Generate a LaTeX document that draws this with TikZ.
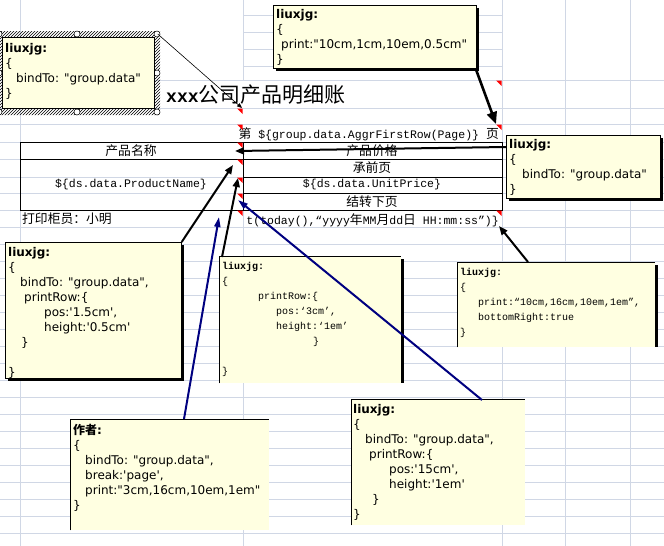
\documentclass[tikz,border=0pt]{standalone}
\usepackage{fontspec}
\newfontfamily\tah{DejaVu Sans}
\newfontfamily\mono{Liberation Mono}
\newfontfamily\cjk{Noto Sans CJK SC}
\usetikzlibrary{arrows.meta,patterns}
\definecolor{gridc}{RGB}{208,215,229}
\definecolor{tipc}{RGB}{255,255,225}
\definecolor{navyc}{RGB}{0,0,128}
\newcommand\zh[1]{{\cjk\fontsize{12.8}{14}\selectfont #1}}

\begin{document}
\begin{tikzpicture}[x=1pt,y=-1pt,
    gridline/.style={draw=gridc,line width=0.8pt},
    rule/.style={draw=black,line width=0.9pt},
    cell/.style={font=\mono\fontsize{11.5}{14}\selectfont,inner sep=0pt},
    notebox/.style={fill=tipc,inner sep=0pt,anchor=north west},
    noteedge/.style={draw=black,line width=0.7pt},
    notetext/.style={anchor=north west,inner sep=0pt,align=left,font=\tah\fontsize{12}{15}\selectfont},
    notemono/.style={anchor=north west,inner sep=0pt,align=left,font=\mono\fontsize{10}{15}\selectfont},
    pointer/.style={draw=black,line width=2pt,-{Triangle[length=9pt,width=7pt]}},
    bigpointer/.style={draw=black,line width=2.6pt,-{Triangle[length=12pt,width=10pt]}},
    thinpointer/.style={draw=black,line width=0.6pt,-{Triangle[length=5pt,width=4pt]}},
    bluepointer/.style={draw=navyc,line width=2pt,-{Triangle[length=10pt,width=6pt]}}]
        \useasboundingbox (0,0) rectangle (664,546);
        \fill[white] (0,0) rectangle (664,546);

        % sheet grid
        \foreach \y in {80,108,124,142,159,177,193,210,227,244,...,533}
            \draw[gridline] (0,\y) -- (664,\y);
        \foreach \y in {15,32,49,66}
            \draw[gridline] (243,\y) -- (502,\y);
        \foreach \x in {20,502,565,630}
            \draw[gridline] (\x,0) -- (\x,546);
        \draw[gridline] (243,0) -- (243,80);
        \draw[gridline] (243,210) -- (243,546);

        % report table
        \draw[rule] (20,142) rectangle (502,210);
        \draw[rule] (243,142) -- (243,210);
        \draw[rule] (20,159) -- (502,159);
        \draw[rule] (243,177) -- (502,177);
        \draw[rule] (243,193) -- (502,193);

        \node[anchor=west,inner sep=0pt] (title) at (166,95)
            {{\mono\bfseries\fontsize{18}{20}\selectfont xxx}{\cjk\fontsize{21}{24}\selectfont 公司产品明细账}};
        \node[cell,anchor=east] (pageno) at (499,134) {\zh{第} \$\{group.data.AggrFirstRow(Page)\} \zh{页}};
        \node[cell] (hname) at (131,151) {\zh{产品名称}};
        \node[cell] (hprice) at (372,151) {\zh{产品价格}};
        \node[cell] (pname) at (131,185) {\$\{ds.data.ProductName\}};
        \node[cell] (prev) at (372,168) {\zh{承前页}};
        \node[cell] (price) at (372,185) {\$\{ds.data.UnitPrice\}};
        \node[cell] (next) at (372,202) {\zh{结转下页}};
        \node[cell,anchor=west] (clerk) at (22,219) {\zh{打印柜员：小明}};
        \node[cell,anchor=east] (stamp) at (499,220) {t(today(),“yyyy\zh{年}MM\zh{月}dd\zh{日} HH:mm:ss”)\}};

        % comment marks
        \foreach \x/\y in {243/108,243/124,243/142,243/159,243/177,243/193,243/210,502/80,502/124,502/210}
            \fill[red] (\x-6,\y+0.5) -- (\x-0.5,\y+0.5) -- (\x-0.5,\y+6) -- cycle;

        % selected comment frame
        \fill[pattern=north east lines,even odd rule] (-3,31) rectangle (160,115) (2,37) rectangle (154,108);
        \foreach \p in {(-1,34),(77,34),(157,34),(-1,73),(157,73),(-1,112),(77,112),(157,112)}
            \draw[fill=white,line width=0.5pt] \p circle (3pt);

        % shadows
        \fill[black] (276,8) rectangle (479,71);
        \fill[black] (509,138) rectangle (663,201);
        \fill[black] (8,245) rectangle (184,381);
        \fill[black] (401,259) rectangle (404,383);
        \fill[black] (655,265) rectangle (658,347);

        % comments
        \node[notebox,noteedge,minimum width=152pt,minimum height=71pt] (bindA) at (2,37) {};
        \node[notebox,noteedge,minimum width=203pt,minimum height=63pt] (printB) at (273,5) {};
        \node[notebox,noteedge,minimum width=154pt,minimum height=63pt] (bindC) at (506,135) {};
        \node[notebox,noteedge,minimum width=176pt,minimum height=136pt] (rowD) at (5,242) {};
        \node[notebox,minimum width=182pt,minimum height=127pt] (rowE) at (219,256) {};
        \node[notebox,minimum width=198pt,minimum height=85pt] (printF) at (457,262) {};
        \node[notebox,minimum width=199pt,minimum height=111pt] (authorG) at (70,419) {};
        \node[notebox,minimum width=174pt,minimum height=126pt] (rowH) at (351,399) {};
        \draw[noteedge] (rowE.south west) -- (rowE.north west) -- (rowE.north east);
        \draw[noteedge] (printF.south west) -- (printF.north west) -- (printF.north east);
        \draw[noteedge] (authorG.south west) -- (authorG.north west) -- (authorG.north east);
        \draw[noteedge] (rowH.south west) -- (rowH.north west) -- (rowH.north east);

        \node[notetext] (bindA-t) at (5,43)
            {\textbf{liuxjg:}\\\{\\\hspace*{11pt}bindTo: "group.data"\\\}};
        \node[notetext] (printB-t) at (276,9)
            {\textbf{liuxjg:}\\\{\\\hspace*{5pt}print:"10cm,1cm,10em,0.5cm"\\\}};
        \node[notetext] (bindC-t) at (509,139)
            {\textbf{liuxjg:}\\\{\\\hspace*{13pt}bindTo: "group.data"\\\}};
        \node[notetext] (rowD-t) at (8,247)
            {\textbf{liuxjg:}\\\{\\\hspace*{12pt}bindTo: "group.data",\\\hspace*{16pt}printRow:\{\\
             \hspace*{36pt}pos:'1.5cm',\\\hspace*{36pt}height:'0.5cm'\\\hspace*{13pt}\}\\\mbox{}\\\}};
        \node[notemono] (rowE-t) at (222,262)
            {\textbf{liuxjg:}\\\{\\\hspace*{36pt}printRow:\{\\\hspace*{54pt}pos:‘3cm’,\\
             \hspace*{54pt}height:‘1em’\\\hspace*{91pt}\}\\\mbox{}\\\}};
        \node[notemono] (printF-t) at (460,268)
            {\textbf{liuxjg:}\\\{\\\hspace*{18pt}print:“10cm,16cm,10em,1em”,\\\hspace*{18pt}bottomRight:true\\\}};
        \node[notetext] (authorG-t) at (73,424)
            {{\cjk\bfseries 作者}\textbf{:}\\\{\\\hspace*{12pt}bindTo: "group.data",\\\hspace*{12pt}break:'page',\\
             \hspace*{12pt}print:"3cm,16cm,10em,1em"\\\}};
        \node[notetext] (rowH-t) at (353,404)
            {\textbf{liuxjg:}\\\{\\\hspace*{12pt}bindTo: "group.data",\\\hspace*{16pt}printRow:\{\\
             \hspace*{36pt}pos:'15cm',\\\hspace*{36pt}height:'1em'\\\hspace*{19pt}\}\\\}};

        % connectors
        \coordinate (titlecell) at (242,108);
        \coordinate (pagecell) at (496,124);
        \coordinate (headcell) at (235,151);
        \coordinate (namecell) at (233,165);
        \coordinate (prevcell) at (238,178);
        \coordinate (footcell) at (499,226);
        \coordinate (clerkcell) at (219,217);
        \coordinate (nextcell) at (238,200);
        \draw[thinpointer] ([shift={(3,-3)}]bindA.north east) -- (titlecell);
        \draw[bigpointer] ([shift={(-1,0)}]printB.south east) -- (pagecell);
        \draw[pointer] ([shift={(0,12)}]bindC.north west) -- (headcell);
        \draw[pointer] (rowD.north east) -- (namecell);
        \draw[pointer] ([shift={(3,1)}]rowE.north west) -- (prevcell);
        \draw[pointer] ([shift={(71,0)}]printF.north west) -- (footcell);
        \draw[bluepointer] ([shift={(114,0)}]authorG.north west) -- (clerkcell);
        \draw[bluepointer] ([shift={(131,1)}]rowH.north west) -- (nextcell);

    \end{tikzpicture}
\end{document}
